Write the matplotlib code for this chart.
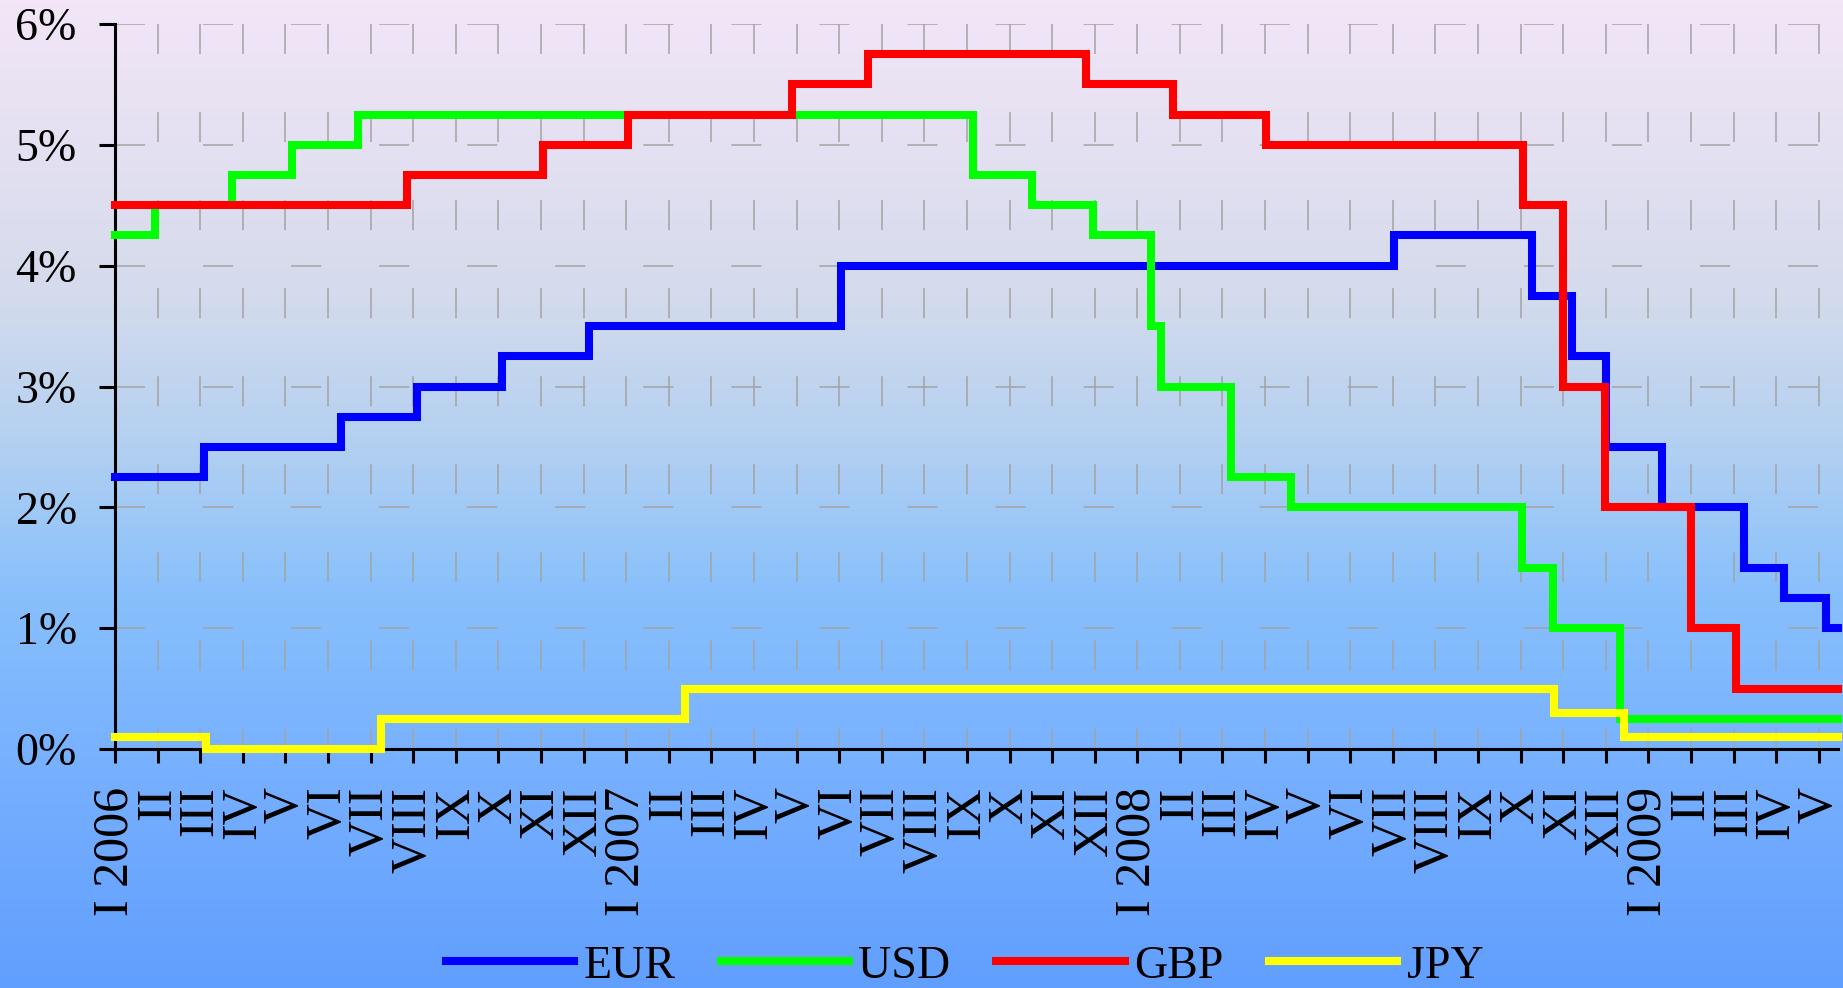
import matplotlib
matplotlib.use("Agg")
import matplotlib.pyplot as plt
import numpy as np
from matplotlib.colors import LinearSegmentedColormap

# step changes, positions in months counted from January 2006
EUR_X = [0, 2.09, 5.30, 7.08, 9.08, 11.12, 17.04, 30.03, 33.26, 34.20, 35.00, 36.31, 38.25, 39.18, 40.18]
EUR_Y = [2.25, 2.5, 2.75, 3.0, 3.25, 3.5, 4.0, 4.25, 3.75, 3.25, 2.5, 2.0, 1.5, 1.25, 1.0]

USD_X = [0, 0.94, 2.75, 4.16, 5.70, 20.14, 21.52, 22.97, 24.31, 24.55, 26.20, 27.62, 33.04, 33.76, 35.33]
USD_Y = [4.25, 4.5, 4.75, 5.0, 5.25, 4.75, 4.5, 4.25, 3.5, 3.0, 2.25, 2.0, 1.5, 1.0, 0.25]

GBP_X = [0, 6.86, 10.05, 12.04, 15.90, 17.68, 22.80, 24.83, 27.02, 33.06, 34.00, 34.98, 37.00, 38.05]
GBP_Y = [4.5, 4.75, 5.0, 5.25, 5.5, 5.75, 5.5, 5.25, 5.0, 4.5, 3.0, 2.0, 1.0, 0.5]

JPY_X = [0, 2.14, 6.24, 13.39, 33.78, 35.43]
JPY_Y = [0.1, 0.0, 0.25, 0.5, 0.3, 0.1]

ROMAN = ["I", "II", "III", "IV", "V", "VI", "VII", "VIII", "IX", "X", "XI", "XII"]
YEARS = [2006, 2007, 2008, 2009]
N_MONTHS = 41
X_END = 40.45

SERIES = [
    ("EUR", EUR_X, EUR_Y, "#0000FF"),
    ("USD", USD_X, USD_Y, "#00FF00"),
    ("GBP", GBP_X, GBP_Y, "#FF0000"),
    ("JPY", JPY_X, JPY_Y, "#FFFF00"),
]

STYLE = {
    'font': 'Liberation Serif',
    'grid_color': '#A3A3A3',
    'grid_dash': (0, (21.6, 41.8)),
    'line_width': 5.8,
    'axis_width': 2.2,
}

plt.rcParams['font.family'] = [STYLE['font'], 'DejaVu Serif']
plt.rcParams['lines.scale_dashes'] = False


def month_labels():
    labels = []
    for i in range(N_MONTHS):
        m = i % 12
        if m == 0:
            labels.append(f"I {YEARS[i // 12]}")
        else:
            labels.append(ROMAN[m])
    return labels


def draw_background(fig):
    cmap = LinearSegmentedColormap.from_list("bg", [
        (0.0, "#F3E6F7"),
        (0.30, "#D4DBEC"),
        (0.45, "#B3D0F1"),
        (0.60, "#88C0FC"),
        (0.80, "#75AEFF"),
        (1.0, "#619FFE"),
    ])
    bg = fig.add_axes([0, 0, 1, 1], zorder=-10)
    bg.imshow(np.linspace(0, 1, 256).reshape(-1, 1), aspect='auto', cmap=cmap,
              extent=[0, 1, 0, 1], origin='upper')
    bg.axis('off')


fig = plt.figure(figsize=(18.43, 9.88), dpi=100)
draw_background(fig)

ax = fig.add_axes([115 / 1843, 239 / 988, 1723 / 1843, 725 / 988])
ax.patch.set_alpha(0)

# dashed grid: vertical dashes run from the top down
for m in range(1, N_MONTHS):
    ax.plot([m, m], [6, 0], color=STYLE['grid_color'], lw=1.1,
            linestyle=STYLE['grid_dash'], zorder=1)
for v in range(1, 7):
    ax.plot([0, X_END], [v, v], color=STYLE['grid_color'], lw=1.1,
            linestyle=STYLE['grid_dash'], zorder=1)

for i, (name, xs, ys, color) in enumerate(SERIES):
    ax.step(list(xs) + [X_END], list(ys) + [ys[-1]], where='post', color=color,
            lw=STYLE['line_width'], label=name, clip_on=False, zorder=3 + i,
            solid_joinstyle='miter', solid_capstyle='projecting')

ax.set_xlim(0, X_END)
ax.set_ylim(0, 6)

ax.set_yticks(range(0, 7))
ax.set_yticklabels([f"{v}%" for v in range(0, 7)], fontsize=33)
ax.set_xticks(range(N_MONTHS))
ax.set_xticklabels(month_labels(), rotation=90, fontsize=36, va='top')

ax.tick_params(axis='y', length=11.5, width=STYLE['axis_width'], pad=16, colors='black')
ax.tick_params(axis='x', length=10, width=STYLE['axis_width'], pad=17, colors='black')

for side in ['top', 'right']:
    ax.spines[side].set_visible(False)
for side in ['left', 'bottom']:
    ax.spines[side].set_linewidth(STYLE['axis_width'])
    ax.spines[side].set_color('black')

fig.legend(loc='center', bbox_to_anchor=(0.5233, 0.022), ncol=4, frameon=False,
           fontsize=33, handlelength=2.8, handletextpad=0.2, columnspacing=1.0,
           borderpad=0, borderaxespad=0)

fig.savefig("out.png", dpi=100)
